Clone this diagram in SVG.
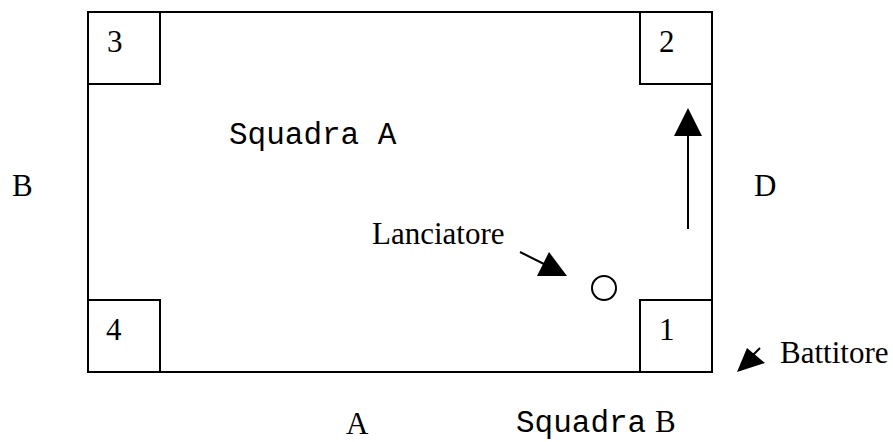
<svg xmlns="http://www.w3.org/2000/svg" width="893" height="442" viewBox="0 0 893 442">
<style>
.ln{fill:none;stroke:#000;stroke-width:2}
.hd{fill:#000;stroke:none}
.t{font-family:"Liberation Serif","Times New Roman",serif;font-size:31px;fill:#000}
.m{font-family:"Courier New","Liberation Mono",monospace;font-size:31px;fill:#000}
</style>
<rect width="893" height="442" fill="#fff"/>
<g id="field"><rect class="ln" x="88" y="12" width="624" height="360"/></g>
<g id="base3"><rect class="ln" x="88" y="12" width="72" height="72"/><text class="t" x="107" y="52">3</text></g>
<g id="base2"><rect class="ln" x="640" y="12" width="72" height="72"/><text class="t" x="659" y="52">2</text></g>
<g id="base4"><rect class="ln" x="88" y="300" width="72" height="72"/><text class="t" x="106" y="340">4</text></g>
<g id="base1"><rect class="ln" x="640" y="300" width="72" height="72"/><text class="t" x="659" y="340">1</text></g>
<g id="pitcher"><circle class="ln" cx="604" cy="288" r="12"/></g>
<g id="connectors">
<line class="ln" x1="688" y1="229" x2="688" y2="132"/>
<polygon class="hd" points="688,108 674,136 702,136"/>
<line class="ln" x1="520" y1="252" x2="546" y2="265"/>
<polygon class="hd" points="567,276 537,276 549,252"/>
<line class="ln" x1="760" y1="348" x2="752" y2="356"/>
<polygon class="hd" points="737,372 747,348 765,363"/>
</g>
<g id="labels">
<text class="m" x="229" y="144">Squadra A</text>
<text class="t" x="12" y="196">B</text>
<text class="t" x="754" y="196">D</text>
<text class="t" x="372" y="244">Lanciatore</text>
<text class="t" x="780" y="363">Battitore</text>
<text class="t" x="346" y="434">A</text>
<text x="516" y="432"><tspan class="m">Squadra</tspan><tspan class="t" x="655">B</tspan></text>
</g>
</svg>
